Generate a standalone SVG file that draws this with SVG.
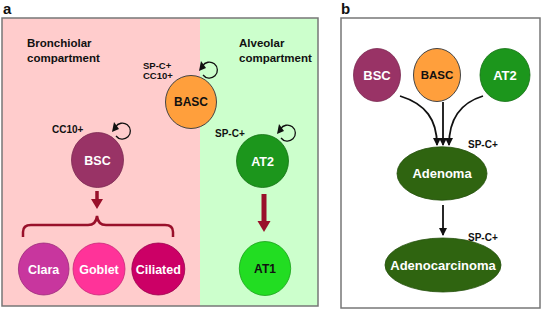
<svg xmlns="http://www.w3.org/2000/svg" width="542" height="311" viewBox="0 0 542 311">
<defs>
<style>
text{font-family:"Liberation Sans",Arial,sans-serif;font-weight:bold;}
.lbl{font-size:11.5px;fill:#111;}
.mk{font-size:10px;fill:#111;}
.mk2{font-size:9.5px;fill:#111;}
.nt{font-size:12.5px;fill:#fff;text-anchor:middle;}
.nb{font-size:12px;fill:#111;text-anchor:middle;}
.panel{font-size:15px;fill:#111;}
.loop{fill:none;stroke:#111;stroke-width:1.3;}
.blk{fill:none;stroke:#111;stroke-width:1.8;}
</style>
<marker id="ah" markerWidth="8" markerHeight="8" refX="7" refY="4" orient="auto" markerUnits="userSpaceOnUse">
<path d="M0,0 L8,4 L0,8 Z" fill="#111"/>
</marker>
</defs>
<rect width="542" height="311" fill="#fff"/>
<text class="panel" x="3" y="14">a</text>
<text class="panel" x="341" y="14">b</text>
<g id="panel-a-bg">
<rect x="2" y="18" width="198" height="288" fill="#FFCCCC"/>
<rect x="200" y="18" width="118" height="288" fill="#CCFFCC"/>
<rect x="2" y="18" width="316" height="288" fill="none" stroke="#777" stroke-width="1.5"/>
</g>
<g id="panel-b-bg"><rect x="341" y="18" width="199" height="290" fill="#fff" stroke="#777" stroke-width="1.5"/></g>
<text class="lbl" x="27" y="47">Bronchiolar</text>
<text class="lbl" x="27" y="62">compartment</text>
<text class="lbl" x="239" y="47">Alveolar</text>
<text class="lbl" x="239" y="62">compartment</text>
<g id="connectors">
<path class="loop" d="M202.5,66 A8,8 0 1 1 203,75"/>
<path d="M199,71 L201,61 L206,68 Z" fill="#111"/>
<path class="loop" d="M115.5,127 A8,8 0 1 1 116,136"/>
<path d="M112,132 L114,122 L119,129 Z" fill="#111"/>
<path class="loop" d="M280.5,129 A8,8 0 1 1 281,138"/>
<path d="M277,134 L279,124 L284,131 Z" fill="#111"/>
<path d="M97,191 L97,201" stroke="#99102A" stroke-width="3.5" fill="none"/>
<path d="M91,199 L103,199 L97,209 Z" fill="#99102A"/>
<path d="M23,237 L23,232 Q23,225 31,225 L88,225 Q96,225 97,216 Q98,225 106,225 L165,225 Q173,225 173,232 L173,237" stroke="#99102A" stroke-width="2.5" fill="none"/>
<path d="M264,194 L264,223" stroke="#99102A" stroke-width="5" fill="none"/>
<path d="M257.5,221 L270.5,221 L264,232 Z" fill="#99102A"/>
<path class="blk" d="M400,96 C426,104 437,120 437,145" marker-end="url(#ah)"/>
<path class="blk" d="M443,102 L443,145" marker-end="url(#ah)"/>
<path class="blk" d="M483,96 C460,103 449,120 449,145" marker-end="url(#ah)"/>
<path class="blk" d="M443,205 L443,235" marker-end="url(#ah)"/>
</g>
<text class="mk2" x="143" y="69">SP-C+</text>
<text class="mk2" x="143" y="79">CC10+</text>
<text class="mk" x="52" y="133">CC10+</text>
<text class="mk" x="215" y="137">SP-C+</text>
<g id="a-BASC"><ellipse cx="191" cy="102" rx="25.5" ry="26.5" fill="#FF9F3C" stroke="#444" stroke-width="1"/><text class="nb" x="191" y="106">BASC</text></g>
<g id="a-BSC"><ellipse cx="97.5" cy="160" rx="26" ry="27.5" fill="#993366" stroke="#7a2850" stroke-width="0.8"/><text class="nt" x="97.5" y="165">BSC</text></g>
<g id="a-AT2"><ellipse cx="262.5" cy="161" rx="26" ry="26.5" fill="#1C961C" stroke="#147014" stroke-width="0.8"/><text class="nt" x="262.5" y="166">AT2</text></g>
<g id="a-Clara"><ellipse cx="43.7" cy="269" rx="25.3" ry="26" fill="#C8369E" stroke="#9a2a7a" stroke-width="0.8"/><text class="nt" x="43.7" y="274">Clara</text></g>
<g id="a-Goblet"><ellipse cx="99" cy="269" rx="26" ry="26" fill="#FF3399" stroke="#c82878" stroke-width="0.8"/><text class="nt" x="99" y="274">Goblet</text></g>
<g id="a-Ciliated"><ellipse cx="158.3" cy="269" rx="26.5" ry="26" fill="#CC0066" stroke="#99004c" stroke-width="0.8"/><text class="nt" x="158.3" y="274">Ciliated</text></g>
<g id="a-AT1"><ellipse cx="265" cy="268.5" rx="25.7" ry="27" fill="#22DD22" stroke="#18a018" stroke-width="0.8"/><text class="nb" x="265" y="273">AT1</text></g>
<g id="b-BSC"><ellipse cx="377" cy="75" rx="23.5" ry="26.5" fill="#993366" stroke="#7a2850" stroke-width="0.8"/><text class="nt" x="377" y="80" style="font-size:13px">BSC</text></g>
<g id="b-BASC"><ellipse cx="437" cy="75" rx="23.5" ry="26.5" fill="#FF9F3C" stroke="#444" stroke-width="1"/><text class="nb" x="437" y="79" style="font-size:11.5px">BASC</text></g>
<g id="b-AT2"><ellipse cx="505" cy="75" rx="25" ry="26.5" fill="#1C961C" stroke="#147014" stroke-width="0.8"/><text class="nt" x="505" y="80" style="font-size:13px">AT2</text></g>
<text class="mk" x="468" y="148">SP-C+</text>
<g id="b-Adenoma"><ellipse cx="442" cy="173.5" rx="45" ry="26.7" fill="#2F6410" stroke="#24500c" stroke-width="0.8"/><text class="nt" x="442" y="178" style="font-size:13px">Adenoma</text></g>
<text class="mk" x="468" y="241">SP-C+</text>
<g id="b-Adenocarcinoma"><ellipse cx="443" cy="265" rx="58" ry="27" fill="#2F6410" stroke="#24500c" stroke-width="0.8"/><text class="nt" x="443" y="270" style="font-size:13px">Adenocarcinoma</text></g>
</svg>
